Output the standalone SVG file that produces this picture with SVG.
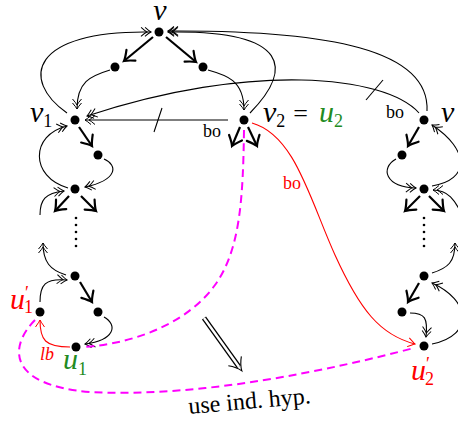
<svg xmlns="http://www.w3.org/2000/svg" width="458" height="421" viewBox="0 0 458 421">
<defs>
<style>
.thin{fill:none;stroke:#000;stroke-width:1.1}
.bold{fill:none;stroke:#000;stroke-width:2.2}
.red{fill:none;stroke:#f00;stroke-width:1.1}
.mag{fill:none;stroke:#f0f;stroke-width:2;stroke-dasharray:8 5}
.node{fill:#000}
.m{font-family:"Liberation Serif",serif;font-style:italic;font-size:30px}
.s{font-family:"Liberation Serif",serif;font-style:normal;font-size:18px}
.t{font-family:"Liberation Serif",serif;font-size:18px}
</style>
<marker id="hb" markerUnits="userSpaceOnUse" viewBox="-15 -15 30 30" markerWidth="30" markerHeight="30" refX="0" refY="0" orient="auto">
<path d="M -9 -7 Q -3 -1.5 0 0 Q -3 1.5 -9 7" fill="none" stroke="#000" stroke-width="2.2" stroke-linecap="round"/>
</marker>
<marker id="hd" markerUnits="userSpaceOnUse" viewBox="-15 -15 30 30" markerWidth="30" markerHeight="30" refX="0" refY="0" orient="auto">
<path d="M -6 -4.5 Q -2 -1 0 0 Q -2 1 -6 4.5 M -10 -4.5 Q -6 -1 -4 0 Q -6 1 -10 4.5" fill="none" stroke="#000" stroke-width="1"/>
</marker>
<marker id="hr" markerUnits="userSpaceOnUse" viewBox="-15 -15 30 30" markerWidth="30" markerHeight="30" refX="0" refY="0" orient="auto">
<path d="M -7 -4.5 Q -2 -1 0 0 Q -2 1 -7 4.5" fill="none" stroke="#f00" stroke-width="1"/>
</marker>
</defs>
<rect width="458" height="421" fill="#fff"/>
<g id="connectors">
<g class="bold" marker-end="url(#hb)">
<path d="M 153 37 L 124 61"/>
<path d="M 166 37 L 196 62"/>
<path d="M 79 127 L 92 146"/>
<path d="M 69 196 L 55 211"/>
<path d="M 81 196 L 96 211"/>
<path d="M 240 127 L 232 146"/>
<path d="M 248 127 L 257 146"/>
<path d="M 80 282 L 92 302"/>
<path d="M 419 127 L 408 146"/>
<path d="M 420 196 L 405 211"/>
<path d="M 429 196 L 444 211"/>
<path d="M 419 283 L 408 302"/>
</g>
<g class="thin" marker-end="url(#hd)">
<path d="M 110 70 C 90 76, 77 82, 77 109"/>
<path d="M 208 70 C 226 75, 244 80, 244 110"/>
<path d="M 67 113 C 20 80, 30 30, 151 32"/>
<path d="M 250 113 C 292 70, 292 30, 168 32"/>
<path d="M 427 111 C 430 50, 330 30, 168 31"/>
<path d="M 228 120 L 85 120"/>
<path d="M 419 113 C 385 75, 250 62, 87 116"/>
<path d="M 104 159 C 118 165, 118 180, 85 187"/>
<path d="M 68 188 C 30 177, 30 135, 67 126"/>
<path d="M 40 215 C 40 200, 45 193, 64 191"/>
<path d="M 66 275 C 50 270, 43 262, 43 243"/>
<path d="M 40 302 C 40 285, 45 278, 67 280"/>
<path d="M 104 317 C 118 325, 115 340, 85 344"/>
<path d="M 396 159 C 380 168, 385 187, 416 188"/>
<path d="M 432 186 C 470 180, 470 150, 432 125"/>
<path d="M 462 215 C 455 200, 448 190, 433 190"/>
<path d="M 432 273 C 448 268, 455 262, 455 243"/>
<path d="M 432 344 C 475 335, 470 300, 432 283"/>
<path d="M 410 313 C 425 313, 428 318, 426 337"/>
</g>
<g class="thin">
<path d="M 154 132 L 162 108"/>
<path d="M 366 100 L 383 80"/>
</g>
<g class="red" marker-end="url(#hr)">
<path d="M 70 347 C 45 347, 40 340, 40 320"/>
<path d="M 252 123 C 295 135, 310 200, 335 255 S 380 335, 415 344"/>
</g>
<g class="mag">
<path d="M 244 130 C 243 200, 240 250, 215 285 C 190 320, 140 343, 84 347"/>
<path d="M 35 320 C 10 345, 5 385, 90 392 C 200 398, 330 370, 414 348"/>
</g>
<g id="implies" transform="translate(204 318) rotate(54.4)">
<path d="M 0 0 L 60 0" stroke="#000" stroke-width="5" fill="none"/>
<path d="M 0 0 L 60 0" stroke="#fff" stroke-width="2.4" fill="none"/>
<path d="M 53 -8 Q 59 -2 65 0 Q 59 2 53 8" stroke="#000" stroke-width="1.1" fill="none"/>
</g>
</g>
<g id="n-v"><circle class="node" cx="159" cy="32" r="4.5"/><text class="m" x="160" y="20" text-anchor="middle" font-size="26">v</text></g>
<g id="n-a"><circle class="node" cx="115" cy="67" r="4.5"/></g>
<g id="n-b"><circle class="node" cx="203" cy="67" r="4.5"/></g>
<g id="n-v1"><circle class="node" cx="75" cy="120" r="4.5"/><text class="m" x="30" y="122">v<tspan class="s" dy="5">1</tspan></text></g>
<g id="n-v2"><circle class="node" cx="244" cy="120" r="4.5"/><text class="m" x="263" y="122">v<tspan class="s" dy="5">2</tspan><tspan font-style="normal" font-size="26" dx="8" dy="-5">=</tspan><tspan fill="#228b22" dx="11">u</tspan><tspan class="s" fill="#228b22" dy="5">2</tspan></text></g>
<g id="n-v3"><circle class="node" cx="424" cy="120" r="4.5"/><text class="m" x="441" y="122">v</text></g>
<g id="n-c"><circle class="node" cx="98" cy="155" r="4.5"/></g>
<g id="n-d"><circle class="node" cx="75" cy="189" r="4.5"/></g>
<g id="n-e"><circle class="node" cx="75" cy="276" r="4.5"/></g>
<g id="n-f"><circle class="node" cx="98" cy="312" r="4.5"/></g>
<g id="n-u1"><circle class="node" cx="76" cy="347" r="4.5"/><text class="m" x="63" y="369" fill="#228b22">u<tspan class="s" dy="6">1</tspan></text></g>
<g id="n-u1p"><circle class="node" cx="40" cy="312" r="4.5"/><text class="m" x="10" y="309" fill="#f00">u<tspan class="s" dy="-10">′</tspan><tspan class="s" dx="-5" dy="14">1</tspan></text></g>
<g id="n-g"><circle class="node" cx="402" cy="155" r="4.5"/></g>
<g id="n-h"><circle class="node" cx="424" cy="189" r="4.5"/></g>
<g id="n-i"><circle class="node" cx="424" cy="276" r="4.5"/></g>
<g id="n-j"><circle class="node" cx="402" cy="312" r="4.5"/></g>
<g id="n-u2p"><circle class="node" cx="424" cy="346" r="4.5"/><text class="m" x="411" y="380" fill="#f00">u<tspan class="s" dy="-10">′</tspan><tspan class="s" dx="-5" dy="15">2</tspan></text></g>
<g id="dots" class="node">
<circle cx="76" cy="218" r="1.3"/><circle cx="76" cy="225" r="1.3"/><circle cx="76" cy="232" r="1.3"/><circle cx="76" cy="239" r="1.3"/><circle cx="76" cy="246" r="1.3"/>
<circle cx="424" cy="218" r="1.3"/><circle cx="424" cy="225" r="1.3"/><circle cx="424" cy="232" r="1.3"/><circle cx="424" cy="239" r="1.3"/><circle cx="424" cy="246" r="1.3"/>
</g>
<g id="labels">
<text class="t" x="203" y="137">bo</text>
<text class="t" x="386" y="118">bo</text>
<text class="t" x="283" y="189" fill="#f00">bo</text>
<text x="40" y="360" fill="#f00" font-family="'Liberation Serif',serif" font-style="italic" font-size="18">lb</text>
<text x="189" y="414" transform="rotate(-5 189 414)" font-family="'Liberation Serif',serif" font-size="24">use ind. hyp.</text>
</g>
</svg>
